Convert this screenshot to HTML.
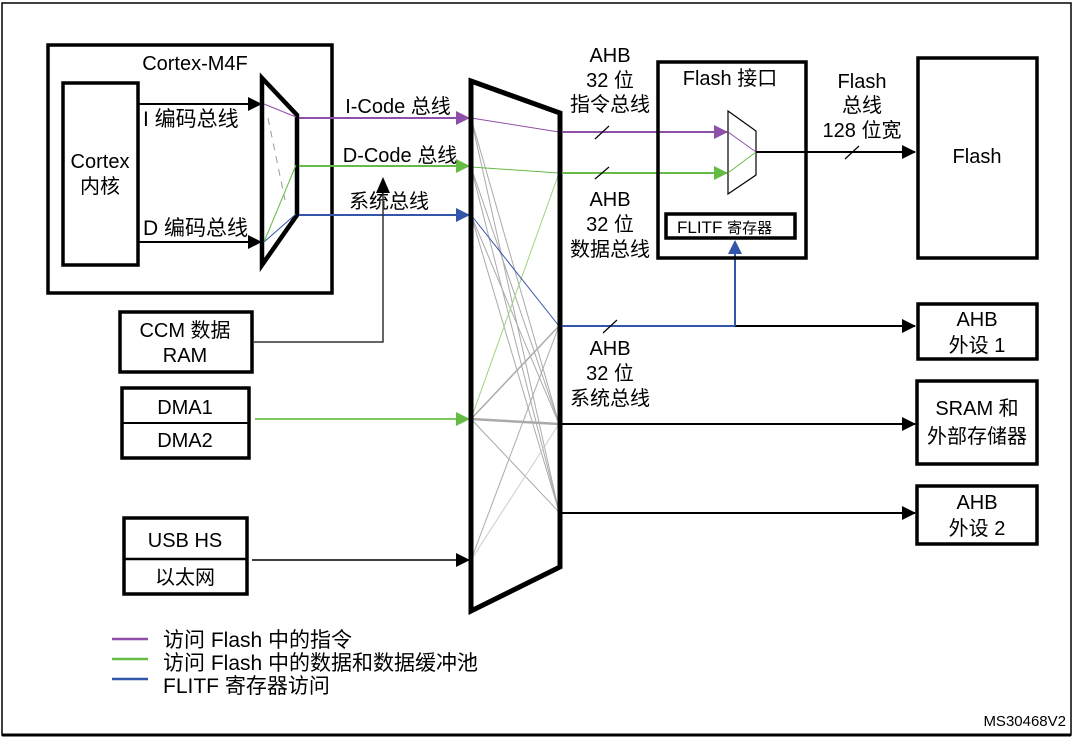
<!DOCTYPE html>
<html><head><meta charset="utf-8"><style>
html,body{margin:0;padding:0;background:#fff;}
svg{display:block;}
text{font-family:"Liberation Sans","Noto Sans CJK SC",sans-serif;fill:#000;}
</style></head><body>
<svg width="1077" height="739" viewBox="0 0 1077 739" xmlns="http://www.w3.org/2000/svg">
<defs>
<marker id="ak" markerWidth="14" markerHeight="14" refX="13" refY="7" orient="auto" markerUnits="userSpaceOnUse"><path d="M0,0 L14,7 L0,14 z" fill="#000"/></marker>
<marker id="ap" markerWidth="14" markerHeight="14" refX="13" refY="7" orient="auto" markerUnits="userSpaceOnUse"><path d="M0,0 L14,7 L0,14 z" fill="#8e4fa8"/></marker>
<marker id="ag" markerWidth="14" markerHeight="14" refX="13" refY="7" orient="auto" markerUnits="userSpaceOnUse"><path d="M0,0 L14,7 L0,14 z" fill="#66bb44"/></marker>
<marker id="ab" markerWidth="14" markerHeight="14" refX="13" refY="7" orient="auto" markerUnits="userSpaceOnUse"><path d="M0,0 L14,7 L0,14 z" fill="#3355aa"/></marker>
</defs>
<rect x="2" y="3" width="1069" height="732" fill="none" stroke="#000" stroke-width="1.5"/>
<line x1="2" y1="735" x2="1071" y2="735" stroke="#000" stroke-width="3"/>

<rect x="48" y="45" width="284" height="248" fill="none" stroke="#000" stroke-width="3.5"/>
<text x="195" y="70" font-size="20" text-anchor="middle">Cortex-M4F</text>
<rect x="63" y="83" width="75" height="182" fill="none" stroke="#000" stroke-width="3.5"/>
<text x="100" y="168" font-size="20" text-anchor="middle">Cortex</text>
<text x="100" y="193" font-size="20" text-anchor="middle">内核</text>
<line x1="138" y1="104" x2="261" y2="104" stroke="#000" stroke-width="2" marker-end="url(#ak)"/>
<line x1="138" y1="242" x2="261" y2="242" stroke="#000" stroke-width="2" marker-end="url(#ak)"/>
<text x="143" y="126" font-size="21">I 编码总线</text>
<text x="143" y="235" font-size="21">D 编码总线</text>
<polygon points="262,78 297,115 297,215 262,265" fill="none" stroke="#000" stroke-width="4.5"/>
<line x1="264" y1="104" x2="296" y2="117" stroke="#8e4fa8" stroke-width="1"/>
<line x1="264" y1="242" x2="296" y2="165" stroke="#66bb44" stroke-width="1"/>
<line x1="264" y1="242" x2="296" y2="214" stroke="#3355aa" stroke-width="1"/>
<line x1="268" y1="118" x2="285" y2="200" stroke="#999" stroke-width="1" stroke-dasharray="7,6"/>

<line x1="299" y1="118" x2="469" y2="118" stroke="#8e4fa8" stroke-width="2" marker-end="url(#ap)"/>
<line x1="299" y1="166" x2="469" y2="166" stroke="#66bb44" stroke-width="2" marker-end="url(#ag)"/>
<line x1="299" y1="215" x2="469" y2="215" stroke="#3355aa" stroke-width="2" marker-end="url(#ab)"/>
<text x="398" y="113" font-size="20" text-anchor="middle">I-Code 总线</text>
<text x="400" y="162" font-size="20" text-anchor="middle">D-Code 总线</text>
<text x="389" y="208" font-size="20" text-anchor="middle">系统总线</text>

<rect x="120" y="312" width="132" height="60" fill="none" stroke="#000" stroke-width="3.5"/>
<text x="185" y="337" font-size="20" text-anchor="middle">CCM 数据</text>
<text x="185" y="362" font-size="20" text-anchor="middle">RAM</text>
<polyline points="254,342 383,342 383,190" fill="none" stroke="#333" stroke-width="1.5"/>
<path d="M376,193 L383,177 L390,193 z" fill="#000"/>

<rect x="122" y="388" width="127" height="70" fill="none" stroke="#000" stroke-width="3.5"/>
<line x1="122" y1="423" x2="249" y2="423" stroke="#000" stroke-width="2"/>
<text x="185" y="414" font-size="20" text-anchor="middle">DMA1</text>
<text x="185" y="447" font-size="20" text-anchor="middle">DMA2</text>
<line x1="255" y1="419" x2="469" y2="419" stroke="#7cc860" stroke-width="2" marker-end="url(#ag)"/>

<rect x="124" y="518" width="123" height="76" fill="none" stroke="#000" stroke-width="3.5"/>
<line x1="124" y1="559" x2="247" y2="559" stroke="#000" stroke-width="2.5"/>
<text x="185" y="547" font-size="20" text-anchor="middle">USB HS</text>
<text x="185" y="584" font-size="20" text-anchor="middle">以太网</text>
<line x1="252" y1="560" x2="469" y2="560" stroke="#000" stroke-width="1.5" marker-end="url(#ak)"/>

<g stroke="#aaa" stroke-width="1" fill="none">
<line x1="471" y1="118" x2="559" y2="424"/>
<line x1="471" y1="118" x2="559" y2="512"/>
<line x1="471" y1="167" x2="559" y2="424"/>
<line x1="471" y1="167" x2="559" y2="512"/>
<line x1="471" y1="215" x2="559" y2="424"/>
<line x1="471" y1="215" x2="559" y2="512"/>
<line x1="471" y1="419" x2="559" y2="326" stroke-width="1.5"/>
<line x1="471" y1="419" x2="559" y2="424" stroke-width="2.5"/>
<line x1="471" y1="419" x2="559" y2="512"/>
<line x1="471" y1="560" x2="559" y2="326"/>
<line x1="471" y1="560" x2="559" y2="424" stroke="#ccc"/>
</g>
<line x1="471" y1="118" x2="559" y2="132" stroke="#8e4fa8" stroke-width="1"/>
<line x1="471" y1="167" x2="559" y2="173" stroke="#66bb44" stroke-width="1"/>
<line x1="471" y1="419" x2="559" y2="173" stroke="#9ad580" stroke-width="1"/>
<line x1="471" y1="215" x2="559" y2="326" stroke="#3355aa" stroke-width="1"/>
<polygon points="471,81 560,113 560,567 471,611" fill="none" stroke="#000" stroke-width="5"/>

<line x1="562" y1="132" x2="727" y2="132" stroke="#8e4fa8" stroke-width="2" marker-end="url(#ap)"/>
<line x1="562" y1="173" x2="727" y2="173" stroke="#66bb44" stroke-width="2" marker-end="url(#ag)"/>
<line x1="562" y1="326" x2="735" y2="326" stroke="#3355aa" stroke-width="2"/>
<line x1="735" y1="326" x2="915" y2="326" stroke="#000" stroke-width="2" marker-end="url(#ak)"/>
<line x1="735" y1="326" x2="735" y2="242" stroke="#3355aa" stroke-width="2"/>
<path d="M728,254 L735,240 L742,254 z" fill="#3355aa"/>
<line x1="562" y1="424" x2="915" y2="424" stroke="#000" stroke-width="2" marker-end="url(#ak)"/>
<line x1="562" y1="513" x2="915" y2="513" stroke="#000" stroke-width="2" marker-end="url(#ak)"/>
<g stroke="#000" stroke-width="1.2">
<line x1="595" y1="139" x2="609" y2="126"/>
<line x1="595" y1="179" x2="609" y2="167"/>
<line x1="603" y1="333" x2="617" y2="320"/>
<line x1="845" y1="159" x2="859" y2="146"/>
</g>
<g font-size="20" text-anchor="middle">
<text x="610" y="62">AHB</text><text x="610" y="87">32 位</text><text x="610" y="111">指令总线</text>
<text x="610" y="206">AHB</text><text x="610" y="231">32 位</text><text x="610" y="256">数据总线</text>
<text x="610" y="355">AHB</text><text x="610" y="380">32 位</text><text x="610" y="405">系统总线</text>
</g>

<rect x="658" y="62" width="148" height="196" fill="none" stroke="#000" stroke-width="3.5"/>
<text x="730" y="85" font-size="20" text-anchor="middle">Flash 接口</text>
<polygon points="728,111 756,131 756,175 728,194" fill="none" stroke="#000" stroke-width="1.2"/>
<line x1="728" y1="132" x2="756" y2="152" stroke="#8e4fa8" stroke-width="1"/>
<line x1="728" y1="173" x2="756" y2="152" stroke="#66bb44" stroke-width="1"/>
<line x1="756" y1="152" x2="915" y2="152" stroke="#000" stroke-width="2" marker-end="url(#ak)"/>
<rect x="666" y="214" width="129" height="24" fill="none" stroke="#000" stroke-width="3.5"/>
<text x="677" y="233" font-size="17">FLITF <tspan font-size="15">寄存器</tspan></text>
<g font-size="20" text-anchor="middle">
<text x="862" y="88">Flash</text><text x="862" y="112">总线</text><text x="862" y="137">128 位宽</text>
</g>

<rect x="918" y="58" width="119" height="200" fill="none" stroke="#000" stroke-width="3.5"/>
<text x="977" y="163" font-size="20" text-anchor="middle">Flash</text>
<rect x="918" y="304" width="119" height="55" fill="none" stroke="#000" stroke-width="3.5"/>
<text x="977" y="326" font-size="20" text-anchor="middle">AHB</text>
<text x="977" y="352" font-size="20" text-anchor="middle">外设 1</text>
<rect x="917" y="381" width="120" height="83" fill="none" stroke="#000" stroke-width="3.5"/>
<text x="977" y="415" font-size="20" text-anchor="middle">SRAM 和</text>
<text x="977" y="443" font-size="20" text-anchor="middle">外部存储器</text>
<rect x="917" y="486" width="120" height="58" fill="none" stroke="#000" stroke-width="3.5"/>
<text x="977" y="509" font-size="20" text-anchor="middle">AHB</text>
<text x="977" y="535" font-size="20" text-anchor="middle">外设 2</text>

<line x1="112" y1="639" x2="148" y2="639" stroke="#8e4fa8" stroke-width="2.5"/>
<line x1="112" y1="659" x2="148" y2="659" stroke="#66bb44" stroke-width="2.5"/>
<line x1="112" y1="679" x2="148" y2="679" stroke="#3355aa" stroke-width="2.5"/>
<text x="163" y="647" font-size="21">访问 Flash 中的指令</text>
<text x="163" y="670" font-size="21">访问 Flash 中的数据和数据缓冲池</text>
<text x="163" y="693" font-size="21">FLITF 寄存器访问</text>
<text x="1066" y="726" font-size="15" text-anchor="end">MS30468V2</text>
</svg>
</body></html>
